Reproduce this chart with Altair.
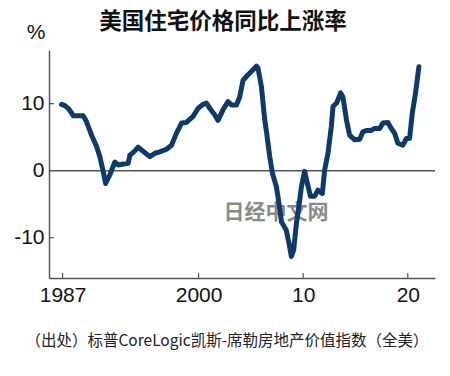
import altair as alt
import pandas as pd

# ---- data ----
years = [1986.90, 1987.22, 1987.53, 1987.86, 1988.01, 1988.97, 1989.29, 1989.77, 1990.25, 1990.56,
         1990.88, 1991.11, 1991.52, 1992.00, 1992.31, 1992.79, 1993.27, 1993.43, 1993.74, 1994.22,
         1994.55, 1995.34, 1995.82, 1996.29, 1996.93, 1997.41, 1997.89, 1998.37, 1998.84, 1999.47,
         1999.95, 2000.43, 2000.75, 2001.07, 2001.55, 2001.86, 2002.34, 2002.82, 2003.14, 2003.62,
         2003.93, 2004.25, 2004.73, 2005.05, 2005.53, 2005.68, 2006.01, 2006.32, 2006.51, 2006.80,
         2007.06, 2007.44, 2007.69, 2007.92, 2008.39, 2008.64, 2008.87, 2009.09, 2009.35, 2009.67,
         2009.83, 2010.14, 2010.36, 2010.69, 2011.10, 2011.41, 2011.83, 2012.05, 2012.37, 2012.69,
         2012.85, 2013.20, 2013.58, 2013.80, 2014.13, 2014.44, 2014.92, 2015.40, 2015.71, 2016.04,
         2016.51, 2016.83, 2017.31, 2017.62, 2018.10, 2018.42, 2018.74, 2019.05, 2019.53, 2019.86,
         2020.17, 2020.43, 2020.74, 2021.06]
values = [9.9, 9.7, 9.3, 8.6, 8.2, 8.2, 7.3, 5.3, 3.6, 2.1,
          -0.1, -1.9, -0.6, 1.3, 0.85, 1.0, 1.1, 2.3, 2.7, 3.5,
          3.1, 2.1, 2.6, 2.8, 3.2, 3.8, 5.6, 7.1, 7.2, 8.1,
          9.3, 9.9, 10.1, 9.3, 8.3, 7.5, 9.1, 10.3, 9.8, 9.8,
          11.0, 13.5, 14.3, 14.8, 15.6, 15.3, 12.5, 7.6, 5.6, 2.1,
          -0.4, -2.4, -4.9, -7.6, -8.9, -10.8, -12.8, -11.8, -7.9, -4.4,
          -2.4, -0.1, -1.6, -3.8, -3.8, -2.9, -3.4, 0.1, 2.6, 6.6,
          9.6, 10.1, 11.6, 11.0, 7.6, 5.3, 4.6, 4.7, 5.8, 6.0,
          6.0, 6.3, 6.3, 7.1, 7.2, 6.3, 5.6, 4.1, 3.8, 4.8,
          4.8, 8.6, 11.6, 15.5]

x_ticks = [1987, 2000, 2010, 2020]
x_tick_labels = ["1987", "2000", "10", "20"]
y_ticks = [10, 0, -10]
y_tick_labels = ["10", "0", "-10"]

title_text = "美国住宅价格同比上涨率"
unit_text = "%"
source_text = "（出处）标普CoreLogic凯斯-席勒房地产价值指数（全美）"
watermark_text = "日经中文网"

W, H = 386, 228
NUM = "Liberation Sans"
CJK = "Noto Sans CJK SC"

df = pd.DataFrame({"year": years, "value": values})
xt = pd.DataFrame({"year": x_ticks})
yt = pd.DataFrame({"v": [v for v in y_ticks if v != 0]})


def make_expr(vals, labels):
    return " : ".join(f"datum.value == {v} ? '{l}'" for v, l in zip(vals, labels)) + " : ''"


xscale = alt.Scale(domain=[1985.7, 2022.6], nice=False, zero=False)
yscale = alt.Scale(domain=[-16, 18], nice=False, zero=False)

xaxis = alt.Axis(values=x_ticks, labelExpr=make_expr(x_ticks, x_tick_labels), title=None,
                 grid=False, ticks=False, domainColor="#555555", domainWidth=1.5,
                 labelFont=NUM, labelFontSize=21, labelColor="#111111",
                 labelPadding=6, labelFlush=False)
yaxis = alt.Axis(values=y_ticks, labelExpr=make_expr(y_ticks, y_tick_labels), title=None,
                 grid=False, ticks=False, domainColor="#555555", domainWidth=1.5,
                 labelFont=NUM, labelFontSize=21, labelColor="#111111",
                 labelPadding=5)

base = alt.Chart(df)

line = base.mark_line(color="#0b3a6b", strokeWidth=5, strokeJoin="round",
                      strokeCap="round").encode(
    x=alt.X("year:Q", scale=xscale, axis=xaxis),
    y=alt.Y("value:Q", scale=yscale, axis=yaxis),
)

zero = alt.Chart(pd.DataFrame({"z": [0]})).mark_rule(color="#555555", strokeWidth=1.5).encode(
    y=alt.Y("z:Q", scale=yscale), x=alt.value(0), x2=alt.value(W)
)

xtick_marks = alt.Chart(xt).mark_rule(color="#555555", strokeWidth=1.2).encode(
    x=alt.X("year:Q", scale=xscale), y=alt.value(H), y2=alt.value(H - 5)
)
ytick_marks = alt.Chart(yt).mark_rule(color="#555555", strokeWidth=1.2).encode(
    y=alt.Y("v:Q", scale=yscale), x=alt.value(0), x2=alt.value(5)
)


def label(text, x, y, **kw):
    return alt.Chart(pd.DataFrame({"t": [text]})).mark_text(**kw).encode(
        text="t:N", x=alt.value(x), y=alt.value(y)
    )


title = label(title_text, 174, -28, font=CJK, fontSize=22.5, fontWeight="bold",
              color="#111111", align="center", baseline="middle")
unit = label(unit_text, -13, -17, font=NUM, fontSize=21,
             color="#111111", align="center", baseline="middle")
source = label(source_text, 178, 291, font=CJK, fontSize=15.5, color="#222222",
               align="center", baseline="middle")
watermark = label(watermark_text, 227, 163, font=CJK, fontSize=21, fontWeight="bold",
                  color="#8a8a8a", align="center", baseline="middle")

chart = alt.layer(zero, watermark, line, xtick_marks, ytick_marks, title, unit, source).properties(
    width=W, height=H,
    padding={"left": 49, "top": 50, "right": 15, "bottom": 98},
    autosize=alt.AutoSizeParams(type="none"),
    background="white",
).configure_view(stroke=None)

chart.save("out.html", embed_options={"renderer": "svg", "actions": False})
